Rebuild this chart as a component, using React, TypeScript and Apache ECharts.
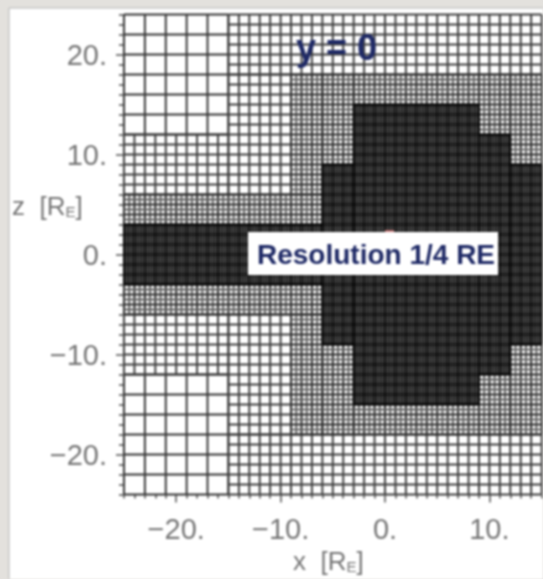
import React, { useEffect, useRef } from "react";
import * as echarts from "echarts";

// Mesh refinement blocks: [xMin, xMax, zMin, zMax] in Earth radii
const spacing2Blocks = [
  [-25, -15, 12, 24],
  [-25, -15, -24, -12],
];
const spacing1Blocks = [
  [-25, -15, 6, 12],
  [-25, -15, -12, -6],
  [-15, 15, 18, 24],
  [-15, 15, -24, -18],
  [-15, -9, 6, 18],
  [-15, -9, -18, -6],
];
const spacingHalfBlocks = [
  [-25, -6, 3, 6],
  [-25, -6, -6, -3],
  [-9, -6, 6, 18],
  [-9, -6, -18, -6],
  [-6, -3, 9, 18],
  [-6, -3, -18, -9],
  [-3, 9, 15, 18],
  [-3, 9, -18, -15],
  [9, 12, 12, 18],
  [9, 12, -18, -12],
  [12, 15, 9, 18],
  [12, 15, -18, -9],
];
const spacingQuarterBlocks = [
  [-25, -6, -3, 3],
  [-6, -3, -9, 9],
  [-3, 9, -15, 15],
  [9, 12, -12, 12],
  [12, 15, -9, 9],
];
const xMajorTicks = [-20, -10, 0, 10];
const zMajorTicks = [-20, -10, 0, 10, 20];
const xMinorTicks = [-25, -24, -23, -22, -21, -19, -18, -17, -16, -15, -14, -13, -12, -11, -9, -8, -7, -6, -5, -4, -3, -2, -1, 1, 2, 3, 4, 5, 6, 7, 8, 9, 11, 12, 13, 14, 15];
const zMinorTicks = [-24, -23, -22, -21, -19, -18, -17, -16, -15, -14, -13, -12, -11, -9, -8, -7, -6, -5, -4, -3, -2, -1, 1, 2, 3, 4, 5, 6, 7, 8, 9, 11, 12, 13, 14, 15, 16, 17, 18, 19, 21, 22, 23, 24];
const annotationPlane = "y = 0";
const annotationResolution = "Resolution 1/4 RE";

const FONT = '"Liberation Sans", Arial, sans-serif';
const GRAY = "#767676";
const NAVY = "#1f2a66";

const fmt = (v: number) => (v < 0 ? "\u2212" + Math.abs(v) : String(v)) + ".";

const withStep = (blocks: number[][], step: number) => blocks.map((b) => [...b, step]);
const meshData = [
  ...withStep(spacing2Blocks, 2),
  ...withStep(spacing1Blocks, 1),
  ...withStep(spacingHalfBlocks, 0.5),
  ...withStep(spacingQuarterBlocks, 0.25),
];

// Lines that fall on a whole unit read heavier than the ones between them.
const lineStyleFor = (step: number, value: number) => {
  const onUnit = Number.isInteger(value);
  if (step === 2) return { stroke: "#333333", lineWidth: 1.9 };
  if (step === 1) return { stroke: "#3c3c3c", lineWidth: 1.9 };
  if (step === 0.5) return onUnit ? { stroke: "#2e2e2e", lineWidth: 2 } : { stroke: "#5c5c5c", lineWidth: 1.8 };
  return onUnit ? { stroke: "#000000", lineWidth: 2 } : { stroke: "#0c0c0c", lineWidth: 1.5 };
};

function renderMesh(_params: any, api: any) {
  const x0 = api.value(0), x1 = api.value(1), z0 = api.value(2), z1 = api.value(3), step = api.value(4);
  const children: any[] = [];
  const nx = Math.round((x1 - x0) / step);
  const nz = Math.round((z1 - z0) / step);
  for (let i = 0; i <= nx; i++) {
    const v = x0 + i * step;
    const a = api.coord([v, z0]);
    const b = api.coord([v, z1]);
    children.push({ type: "line", shape: { x1: a[0], y1: a[1], x2: b[0], y2: b[1] }, style: lineStyleFor(step, v) });
  }
  for (let j = 0; j <= nz; j++) {
    const v = z0 + j * step;
    const a = api.coord([x0, v]);
    const b = api.coord([x1, v]);
    children.push({ type: "line", shape: { x1: a[0], y1: a[1], x2: b[0], y2: b[1] }, style: lineStyleFor(step, v) });
  }
  return { type: "group", children };
}

export default function App() {
  const ref = useRef<HTMLDivElement>(null);
  useEffect(() => {
    document.body.style.margin = "0";
    document.body.style.background = "#e3e1dd";
    const chart = echarts.init(ref.current!, undefined, { renderer: "svg" });
    const axisBase = { axisLine: { show: false, onZero: false }, splitLine: { show: false } };
    const tick = (len: number, values: number[]) => ({
      show: true,
      length: len,
      customValues: values,
      lineStyle: { color: "#505050", width: 1.5 },
    });
    const label = (margin: number, values: number[]) => ({
      show: true,
      customValues: values,
      margin,
      formatter: fmt,
      color: GRAY,
      fontFamily: FONT,
      fontSize: 29,
    });
    const subRich = {
      m: { fontFamily: FONT, fontSize: 26, fill: GRAY },
      s: { fontFamily: FONT, fontSize: 15, fill: GRAY, verticalAlign: "bottom", padding: [12, 0, 0, 0] },
    };
    chart.setOption({
      animation: false,
      backgroundColor: "#e3e1dd",
      grid: { left: 124, top: 14.5, width: 417.6, height: 480 },
      xAxis: [
        { ...axisBase, type: "value", min: -25, max: 15, position: "bottom", axisTick: tick(8, xMajorTicks), axisLabel: label(20, xMajorTicks) },
        { ...axisBase, type: "value", min: -25, max: 15, position: "bottom", axisTick: tick(4, xMinorTicks), axisLabel: { show: false } },
      ],
      yAxis: [
        { ...axisBase, type: "value", min: -24, max: 24, position: "left", axisTick: tick(8, zMajorTicks), axisLabel: label(17, zMajorTicks) },
        { ...axisBase, type: "value", min: -24, max: 24, position: "left", axisTick: tick(5, zMinorTicks), axisLabel: { show: false } },
      ],
      series: [
        {
          type: "custom",
          coordinateSystem: "cartesian2d",
          renderItem: renderMesh,
          data: meshData,
          encode: { x: [0, 1], y: [2, 3] },
          silent: true,
          clip: false,
          z: 5,
        },
      ],
      graphic: [
        { type: "rect", z: -10, silent: true, shape: { x: 9, y: 8, width: 540, height: 580 }, style: { fill: "#ffffff", stroke: "#b4b4b4", lineWidth: 1 } },
        { type: "rect", z: 100, silent: true, shape: { x: 248, y: 232, width: 250, height: 43 }, style: { fill: "#ffffff" } },
        { type: "rect", z: 100, silent: true, shape: { x: 385, y: 230, width: 9, height: 2 }, style: { fill: "#c98080" } },
        { type: "text", z: 101, silent: true, x: 296, y: 47, style: { text: annotationPlane, font: `bold 36px ${FONT}`, fill: NAVY, textVerticalAlign: "middle" } },
        { type: "text", z: 101, silent: true, x: 257, y: 254, style: { text: annotationResolution, font: `bold 28px ${FONT}`, fill: NAVY, textVerticalAlign: "middle" } },
        { type: "text", z: 101, silent: true, x: 293, y: 547, style: { text: "{m|x  [R}{s|E}{m|]}", rich: subRich } },
        { type: "text", z: 101, silent: true, x: 12, y: 192, style: { text: "{m|z  [R}{s|E}{m|]}", rich: subRich } },
      ],
    });
    return () => chart.dispose();
  }, []);
  return (
    <div
      ref={ref}
      style={{ position: "absolute", left: 0, top: 0, width: 543, height: 579, filter: "blur(0.9px)" }}
    />
  );
}
